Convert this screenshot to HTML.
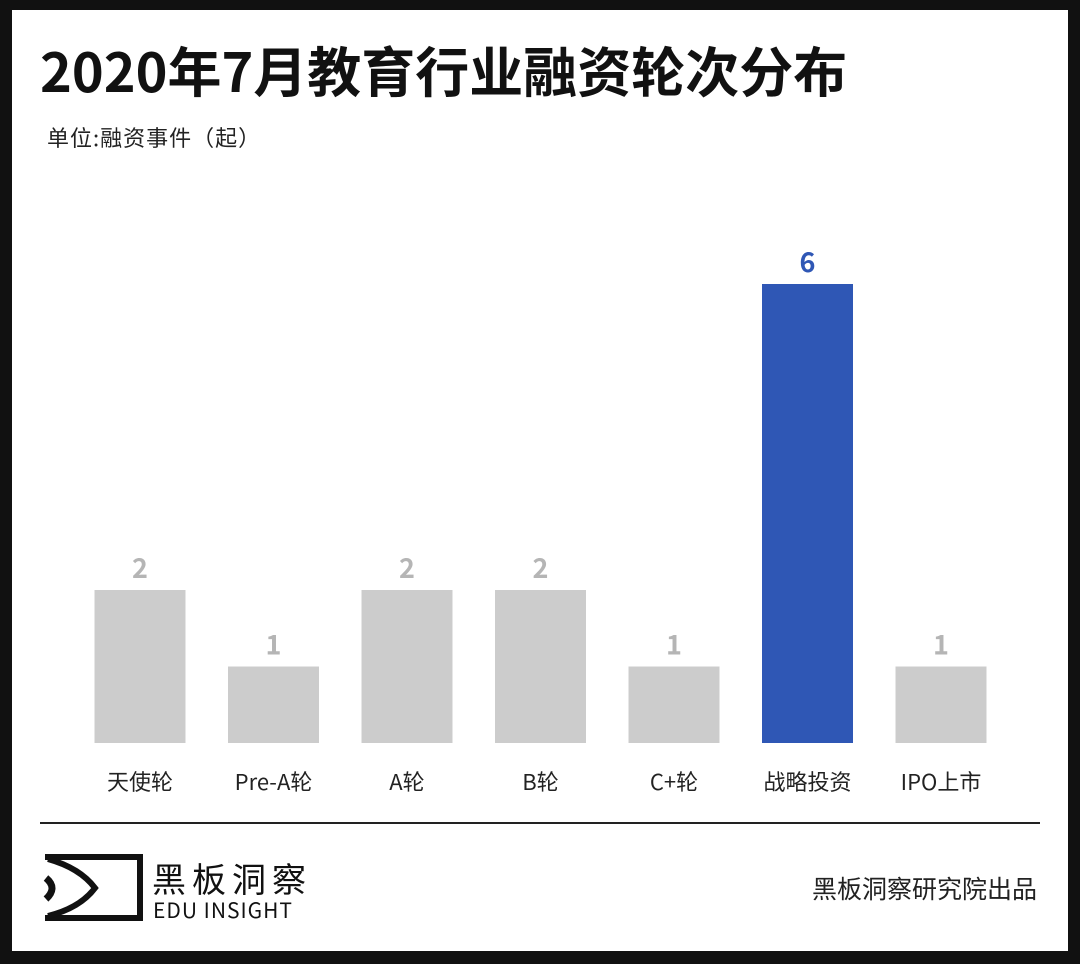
<!DOCTYPE html>
<html><head><meta charset="utf-8">
<style>
*{margin:0;padding:0;box-sizing:border-box}
body{width:1080px;height:964px;background:#111;font-family:"Noto Sans CJK SC",sans-serif;position:relative;overflow:hidden}
#frame{position:absolute;left:12px;top:10px;width:1056px;height:941px;background:#fff}
#title{position:absolute;left:40px;top:34px;font-size:54px;line-height:70px;font-weight:bold;color:#111;white-space:nowrap}
#unit{position:absolute;left:47px;top:121px;font-size:22px;line-height:32px;color:#222;letter-spacing:1px;white-space:nowrap}
svg{position:absolute;left:0;top:0}
#divider{position:absolute;left:40px;top:822px;width:1000px;height:2px;background:#222}
#credit{position:absolute;right:43px;top:870px;font-size:25px;line-height:36px;color:#222;white-space:nowrap}
</style></head><body>
<div id="frame"></div>
<div id="title">2020年7月教育行业融资轮次分布</div>
<div id="unit">单位:融资事件（起）</div>
<svg id="chart" width="1080" height="964"></svg>
<div id="divider"></div>
<svg width="1080" height="964">
<g>
<path d="M45 857 H140 V918 H45" fill="none" stroke="#111" stroke-width="6"/>
<path d="M48 859 Q80 868 95 888 Q80 908 48 916" fill="none" stroke="#111" stroke-width="6"/>
<path d="M46 878 Q58 888 46 899" fill="none" stroke="#111" stroke-width="7"/>
</g>
<text x="152" y="892" font-size="34" font-family="Noto Sans CJK SC,sans-serif" fill="#111" letter-spacing="6">黑板洞察</text>
<text x="153" y="918" font-size="21" font-family="Noto Sans CJK SC,sans-serif" fill="#111" letter-spacing="1">EDU INSIGHT</text>
</svg>
<div id="credit">黑板洞察研究院出品</div>
<script>
const categories=["天使轮","Pre-A轮","A轮","B轮","C+轮","战略投资","IPO上市"];
const values=[2,1,2,2,1,6,1];
const highlight=[false,false,false,false,false,true,false];
const svg=document.getElementById('chart');
const NS='http://www.w3.org/2000/svg';
const baseY=743,unitH=76.5,x0=140,step=133.5,bw=91;
const xs=i=>x0+i*step;
const ys=v=>baseY-v*unitH;
categories.forEach((c,i)=>{
 const v=values[i];
 const r=document.createElementNS(NS,'rect');
 r.setAttribute('x',xs(i)-bw/2);r.setAttribute('y',ys(v));
 r.setAttribute('width',bw);r.setAttribute('height',baseY-ys(v));
 r.setAttribute('fill',highlight[i]?'#2f57b5':'#cccccc');
 
 
 svg.appendChild(r);
 const t=document.createElementNS(NS,'text');
 t.setAttribute('x',xs(i));t.setAttribute('y',ys(v)-12);
 t.setAttribute('text-anchor','middle');t.setAttribute('font-size','27');t.setAttribute('font-weight','bold');
 t.setAttribute('font-family','Noto Sans CJK SC,sans-serif');
 t.setAttribute('fill',highlight[i]?'#2f57b5':'#b5b5b5');
 t.textContent=v;
 
 
 svg.appendChild(t);
 const l=document.createElementNS(NS,'text');
 l.setAttribute('x',xs(i));l.setAttribute('y',790);
 l.setAttribute('text-anchor','middle');l.setAttribute('font-size','22');
 l.setAttribute('font-family','Noto Sans CJK SC,sans-serif');
 l.setAttribute('fill','#222');
 l.textContent=c;
 
 
 svg.appendChild(l);
});
</script>
</body></html>
